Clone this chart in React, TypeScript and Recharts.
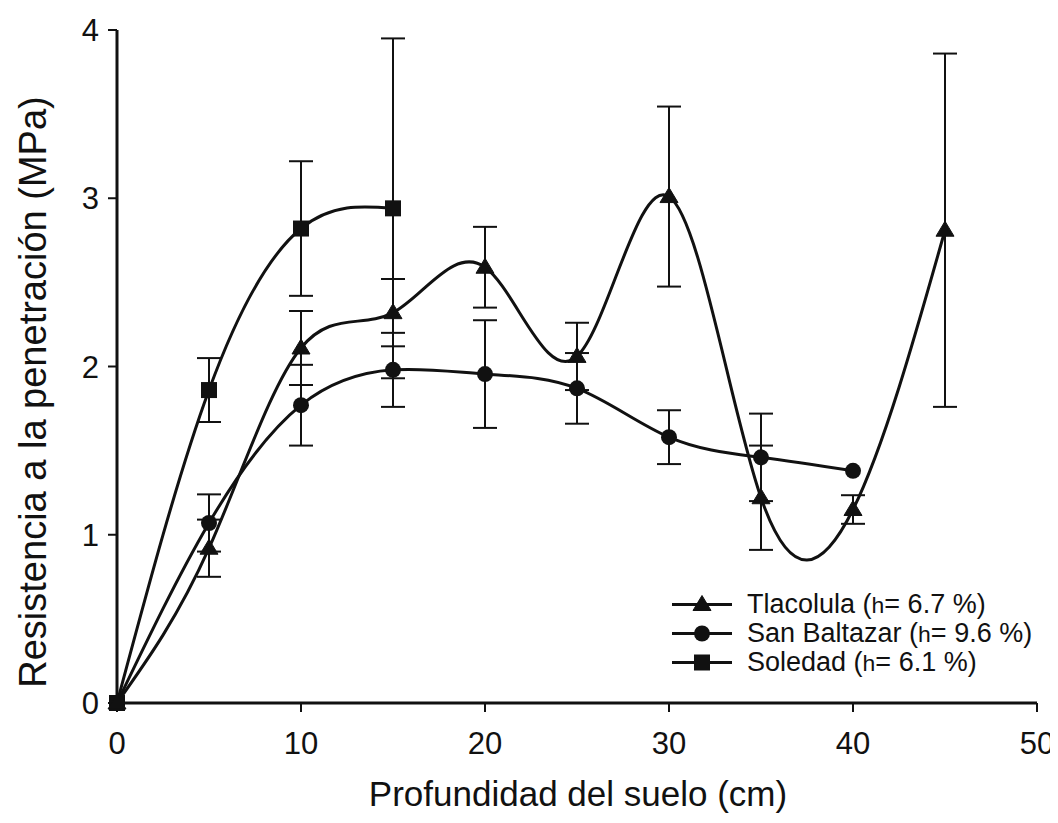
import React from "react";
import { LineChart, Line, XAxis, YAxis, ErrorBar, Legend, Label } from "recharts";

const depthTicks = [0, 10, 20, 30, 40, 50];
const resistTicks = [0, 1, 2, 3, 4];

const tlacDepth = [0, 5, 10, 15, 20, 25, 30, 35, 40, 45];
const tlacMean = [0, 0.92, 2.11, 2.32, 2.59, 2.06, 3.01, 1.22, 1.15, 2.81];
const tlacErr = [0, 0.17, 0.22, 0.2, 0.24, 0.2, 0.535, 0.31, 0.085, 1.05];

const sbDepth = [0, 5, 10, 15, 20, 25, 30, 35, 40];
const sbMean = [0, 1.07, 1.77, 1.98, 1.955, 1.87, 1.58, 1.46, 1.38];
const sbErr = [0, 0.17, 0.24, 0.22, 0.32, 0.21, 0.16, 0.26, 0];

const solDepth = [0, 5, 10, 15];
const solMean = [0, 1.86, 2.82, 2.94];
const solErr = [0, 0.19, 0.4, 1.01];

const seriesNames = ["Tlacolula", "San Baltazar", "Soledad"];
const seriesH = ["6.7", "9.6", "6.1"];
const seriesShapes = ["triangle", "circle", "square"];

const build = (d: number[], m: number[], e: number[]) =>
  d.map((x, i) => ({ depth: x, value: m[i], err: e[i] }));

const tlacData = build(tlacDepth, tlacMean, tlacErr);
const sbData = build(sbDepth, sbMean, sbErr);
const solData = build(solDepth, solMean, solErr);

const FONT = "'Liberation Sans', Arial, sans-serif";
const INK = "#111";

function Marker({ shape, cx, cy }: { shape: string; cx: number; cy: number }) {
  if (cx == null || cy == null) return null;
  if (shape === "triangle") {
    return (
      <polygon
        points={`${cx},${cy - 9} ${cx + 9},${cy + 6} ${cx - 9},${cy + 6}`}
        fill={INK}
        stroke={INK}
        strokeWidth={1}
      />
    );
  }
  if (shape === "circle") {
    return <circle cx={cx} cy={cy} r={8} fill={INK} />;
  }
  return <rect x={cx - 8} y={cy - 8} width={16} height={16} fill={INK} />;
}

const makeDot = (shape: string, prefix: string) => (p: any) =>
  <Marker key={`${prefix}-${p.index}`} shape={shape} cx={p.cx} cy={p.cy} />;

function LegendContent() {
  return (
    <div style={{ fontFamily: FONT, fontSize: 27, color: INK }}>
      {seriesNames.map((name, i) => (
        <div key={name} style={{ display: "flex", alignItems: "center", height: 29 }}>
          <svg width={62} height={29} style={{ display: "block" }}>
            <line x1={0} y1={14.5} x2={60} y2={14.5} stroke={INK} strokeWidth={3} />
            <Marker shape={seriesShapes[i]} cx={30} cy={14.5} />
          </svg>
          <span style={{ marginLeft: 13, whiteSpace: "nowrap", lineHeight: "29px" }}>
            {name} (<span style={{ fontSize: "0.85em" }}>h</span>= {seriesH[i]} %)
          </span>
        </div>
      ))}
    </div>
  );
}

export default function App() {
  return (
    <div style={{ width: 1050, height: 807, background: "#fff" }}>
      <LineChart
        width={1050}
        height={807}
        margin={{ top: 22, right: 21, bottom: 52, left: 29 }}
      >
        <XAxis
          dataKey="depth"
          type="number"
          domain={[0, 50]}
          ticks={depthTicks}
          allowDuplicatedCategory={false}
          height={60}
          axisLine={{ stroke: INK, strokeWidth: 3 }}
          tickLine={{ stroke: INK, strokeWidth: 2 }}
          tickSize={9}
          tickMargin={20}
          tick={{ fill: INK, fontSize: 31, fontFamily: FONT }}
        >
          <Label
            content={() => (
              <text
                x={570}
                y={798}
                textAnchor="middle"
                fontFamily={FONT}
                fontSize={35}
                fill={INK}
              >
                Profundidad del suelo (cm)
              </text>
            )}
          />
        </XAxis>
        <YAxis
          type="number"
          domain={[0, 4]}
          ticks={resistTicks}
          width={80}
          axisLine={{ stroke: INK, strokeWidth: 3 }}
          tickLine={{ stroke: INK, strokeWidth: 2 }}
          tickSize={9}
          tickMargin={9}
          tick={{ fill: INK, fontSize: 31, fontFamily: FONT }}
        >
          <Label
            content={() => (
              <text
                x={38}
                y={384}
                transform="rotate(-90, 38, 384)"
                textAnchor="middle"
                fontFamily={FONT}
                fontSize={38}
                fill={INK}
              >
                Resistencia a la penetración (MPa)
              </text>
            )}
          />
        </YAxis>
        <Legend
          layout="vertical"
          align="center"
          verticalAlign="middle"
          content={() => <LegendContent />}
          wrapperStyle={{ left: 664, top: 582, width: 370, height: 90 }}
        />
        <Line
          data={solData}
          dataKey="value"
          name="Soledad"
          type="natural"
          stroke={INK}
          strokeWidth={3}
          dot={makeDot("square", "sol")}
          activeDot={false}
          isAnimationActive={false}
        >
          <ErrorBar dataKey="err" direction="y" width={12} stroke={INK} strokeWidth={2} />
        </Line>
        <Line
          data={sbData}
          dataKey="value"
          name="San Baltazar"
          type="natural"
          stroke={INK}
          strokeWidth={3}
          dot={makeDot("circle", "sb")}
          activeDot={false}
          isAnimationActive={false}
        >
          <ErrorBar dataKey="err" direction="y" width={12} stroke={INK} strokeWidth={2} />
        </Line>
        <Line
          data={tlacData}
          dataKey="value"
          name="Tlacolula"
          type="natural"
          stroke={INK}
          strokeWidth={3}
          dot={makeDot("triangle", "tl")}
          activeDot={false}
          isAnimationActive={false}
        >
          <ErrorBar dataKey="err" direction="y" width={12} stroke={INK} strokeWidth={2} />
        </Line>
      </LineChart>
    </div>
  );
}
